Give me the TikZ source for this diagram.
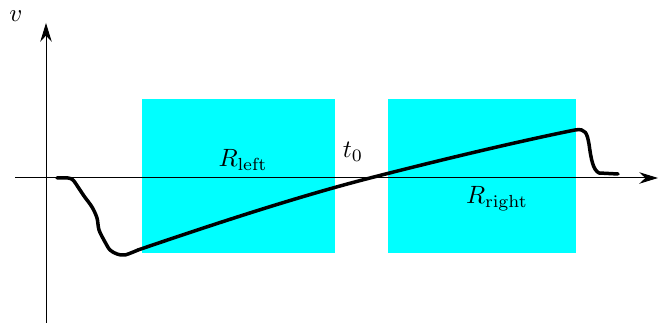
\documentclass[tikz,border=0pt]{standalone}
\usetikzlibrary{arrows.meta}
\definecolor{regioncyan}{RGB}{0,255,255}

\begin{document}
\begin{tikzpicture}[x=0.4pt,y=0.4pt,
    axisline/.style={line width=0.4pt,-{Stealth[length=7.5pt,width=4.6pt]}},
    region/.style={fill=regioncyan},
    trajectory/.style={line width=1.4pt,line join=round,line cap=round}]
        \useasboundingbox (0,0) rectangle (671,324);

        \fill[region] (142,71) rectangle (335,225);
        \fill[region] (388,71) rectangle (576,225);

        \draw[axisline] (15,146) -- (658,146);
        \draw[axisline] (46,1) -- (46,301);
        \node (vlab) at (16,308) {$v$};

        \node (rleft) at (243,164) {$R_{\mathrm{left}}$};
        \node (rright) at (497,125) {$R_{\mathrm{right}}$};
        \node (tzero) at (353,172) {$t_0$};

        \draw[trajectory] plot[smooth,tension=0.5] coordinates {
          (57,146) (68,146) (73,144) (78,137) (84,128) (92,117) (97,106)
          (99,94) (105,82) (110,74) (117,70) (125,69) (138,74)};
        \draw[trajectory] (138,74) .. controls (220,102) and (300,128) .. (370,146)
          .. controls (440,164) and (520,183) .. (575,194)
          .. controls (586,196) and (587,190) .. (589,180)
          .. controls (591,165) and (593,154) .. (599,151) -- (618,150);
      \end{tikzpicture}
\end{document}
